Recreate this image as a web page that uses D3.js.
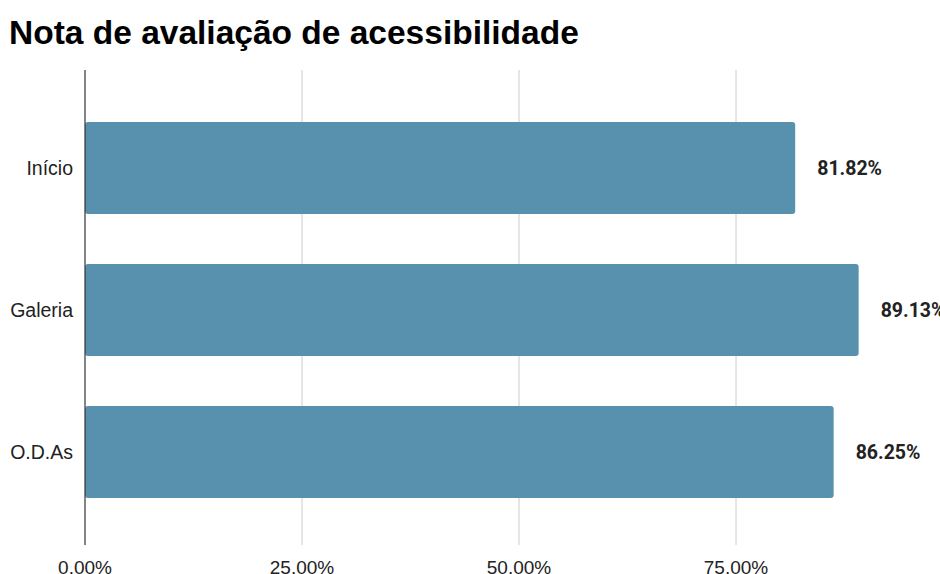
<!DOCTYPE html>
<html lang="pt">
<head>
  <meta charset="UTF-8">
  <title>Nota de avaliação de acessibilidade</title>
  <script src="https://d3js.org/d3.v7.min.js"></script>
  <style>
    body { margin: 0; background: #fff; overflow: hidden; }
    text { font-family: "Liberation Sans", Arial, sans-serif; }
  </style>
</head>
<body>
  <div id="chart"></div>
  <script>
    // dados do gráfico
    const paginas = ["Início", "Galeria", "O.D.As"];
    const notas = [81.82, 89.13, 86.25];
    const ticks = [0, 25, 50, 75];

    const width = 940, height = 574;
    const left = 85, plotTop = 70, plotBottom = 545;

    const svg = d3.select("#chart").append("svg")
      .attr("width", width)
      .attr("height", height);

    svg.append("text")
      .attr("x", 9).attr("y", 44)
      .attr("font-size", 33.5).attr("font-weight", "bold")
      .attr("fill", "#000")
      .text("Nota de avaliação de acessibilidade");

    const x = d3.scaleLinear().domain([0, 100]).range([left, left + 868]);
    const y = d3.scaleBand().domain(paginas).range([70, 550])
      .paddingInner(0.352).paddingOuter(0.366);

    // linhas de grade
    svg.selectAll(".grid").data(ticks.slice(1)).enter().append("line")
      .attr("x1", d => x(d)).attr("x2", d => x(d))
      .attr("y1", plotTop).attr("y2", plotBottom)
      .attr("stroke", "#ccc").attr("stroke-width", 1);

    // barras
    svg.selectAll(".bar").data(notas).enter().append("rect")
      .attr("x", x(0))
      .attr("y", (d, i) => y(paginas[i]))
      .attr("width", d => x(d) - x(0))
      .attr("height", y.bandwidth())
      .attr("rx", 3)
      .attr("fill", "#5891ad");

    // eixo vertical
    svg.append("line")
      .attr("x1", left).attr("x2", left)
      .attr("y1", plotTop).attr("y2", plotBottom)
      .attr("stroke", "#333").attr("stroke-width", 1.2);

    // rótulos das categorias
    svg.selectAll(".cat").data(paginas).enter().append("text")
      .attr("x", 73)
      .attr("y", d => y(d) + y.bandwidth() / 2)
      .attr("dy", "0.35em")
      .attr("text-anchor", "end")
      .attr("font-size", 19.5).attr("fill", "#222")
      .text(d => d);

    // rótulos dos valores
    svg.selectAll(".val").data(notas).enter().append("text")
      .attr("x", d => x(d) + 22)
      .attr("y", (d, i) => y(paginas[i]) + y.bandwidth() / 2)
      .attr("dy", "0.35em")
      .style("font-family", "Roboto, sans-serif")
      .attr("font-size", 19.5).attr("font-weight", "bold").attr("fill", "#222")
      .text(d => d.toFixed(2) + "%");

    // rótulos do eixo x
    svg.selectAll(".tick").data(ticks).enter().append("text")
      .attr("x", d => x(d))
      .attr("y", 574)
      .attr("text-anchor", "middle")
      .attr("font-size", 19).attr("fill", "#222")
      .text(d => d.toFixed(2) + "%");
  </script>
</body>
</html>
